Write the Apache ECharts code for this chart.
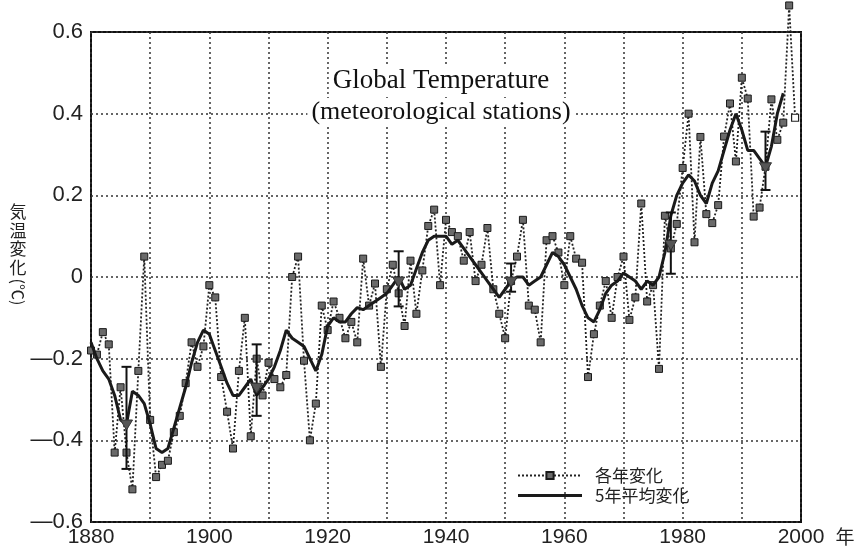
<!DOCTYPE html>
<html><head><meta charset="utf-8">
<script src="https://cdn.jsdelivr.net/npm/echarts@6/dist/echarts.min.js"></script>
<style>html,body{margin:0;padding:0;background:#fff}#c{width:856px;height:551px}</style>
</head><body><div id="c"></div>
<script>
// ---- data ----
const startYear = 1880;
// annual anomaly (°C), 1880..1999
const annualValues = [
  -0.18, -0.19, -0.135, -0.165, -0.43, -0.27, -0.43, -0.52, -0.23, 0.05,   // 1880s
  -0.35, -0.49, -0.46, -0.45, -0.38, -0.34, -0.26, -0.16, -0.22, -0.17,    // 1890s
  -0.02, -0.05, -0.245, -0.33, -0.42, -0.23, -0.10, -0.39, -0.20, -0.29,   // 1900s
  -0.21, -0.25, -0.27, -0.24, 0.00, 0.05, -0.205, -0.40, -0.31, -0.07,     // 1910s
  -0.13, -0.06, -0.10, -0.15, -0.11, -0.16, 0.045, -0.07, -0.016, -0.22,   // 1920s
  -0.03, 0.03, -0.04, -0.12, 0.04, -0.09, 0.016, 0.125, 0.165, -0.02,      // 1930s
  0.14, 0.11, 0.10, 0.04, 0.11, -0.01, 0.03, 0.12, -0.03, -0.09,           // 1940s
  -0.15, -0.01, 0.05, 0.14, -0.07, -0.08, -0.16, 0.09, 0.10, 0.06,         // 1950s
  -0.02, 0.10, 0.045, 0.035, -0.245, -0.14, -0.07, -0.01, -0.10, 0.00,     // 1960s
  0.05, -0.105, -0.05, 0.18, -0.06, -0.02, -0.225, 0.15, 0.07, 0.13,       // 1970s
  0.267, 0.40, 0.085, 0.343, 0.154, 0.132, 0.176, 0.344, 0.425, 0.283,     // 1980s
  0.488, 0.437, 0.148, 0.17, 0.27, 0.435, 0.336, 0.378, 0.665, 0.39        // 1990s
];
// 5-year mean curve (°C), 1880..1997
const meanValues = [
  -0.16, -0.20, -0.23, -0.25, -0.29, -0.35, -0.36, -0.28, -0.29, -0.31,
  -0.36, -0.42, -0.43, -0.42, -0.37, -0.32, -0.27, -0.21, -0.16, -0.13,
  -0.14, -0.18, -0.22, -0.26, -0.29, -0.29, -0.27, -0.25, -0.29, -0.27,
  -0.25, -0.22, -0.18, -0.13, -0.15, -0.16, -0.17, -0.20, -0.23, -0.19,
  -0.12, -0.10, -0.11, -0.11, -0.09, -0.075, -0.08, -0.07, -0.06, -0.05,
  -0.04, -0.02, 0.00, -0.03, -0.02, 0.02, 0.06, 0.09, 0.10, 0.10,
  0.10, 0.08, 0.09, 0.07, 0.05, 0.03, 0.01, -0.01, -0.03, -0.05,
  -0.03, -0.01, 0.00, 0.00, -0.02, -0.01, 0.00, 0.03, 0.06, 0.05,
  0.03, 0.00, -0.03, -0.07, -0.10, -0.11, -0.08, -0.04, -0.02, -0.01,
  0.01, 0.00, -0.01, -0.03, -0.01, -0.02, 0.00, 0.06, 0.15, 0.20,
  0.23, 0.25, 0.235, 0.20, 0.18, 0.23, 0.26, 0.31, 0.36, 0.40,
  0.36, 0.31, 0.31, 0.29, 0.27, 0.32, 0.40, 0.45
];
// error bars (low, high) and the 5-year mean marker shown on each bar
const errorYears = [1886, 1908, 1932, 1951, 1978, 1994];
const errorLow  = [-0.47, -0.34, -0.072, -0.036, 0.008, 0.213];
const errorHigh = [-0.22, -0.165, 0.063, 0.033, 0.158, 0.356];
const errorMid  = [-0.36, -0.27, -0.01, -0.01, 0.08, 0.27];
const seriesNames = ['各年変化', '5年平均変化'];
const titleLines = ['Global Temperature', '(meteorological stations)'];
const yAxisName = ['気', '温', '変', '化'];
const yAxisUnit = '(℃)';
const xUnit = '年';

// ---- chart ----
const chart = echarts.init(document.getElementById('c'), null, {renderer: 'canvas'});
const annualData = annualValues.map((v, i) => {
  const year = startYear + i;
  if (year === 1999) return {value: [year, v], itemStyle: {color: '#fff', borderColor: '#222', borderWidth: 1.2}};
  return [year, v];
});
const meanData = meanValues.map((v, i) => [startYear + i, v]);
const errData = errorYears.map((y, i) => [y, errorLow[i], errorHigh[i], errorMid[i]]);

const sans = '"Liberation Sans", Arial, sans-serif';
const cjk = '"Noto Sans CJK JP", "Noto Sans CJK SC", sans-serif';
const serif = '"Liberation Serif", "Times New Roman", serif';

const gridDot = {type: [2, 3], color: '#333', width: 1.5};

const yGraphics = yAxisName.map((ch, i) => ({
  type: 'text', x: 18, y: 212 + i * 18.5,
  style: {text: ch, font: '17px ' + cjk, fill: '#222', align: 'center', verticalAlign: 'middle'}
}));

chart.setOption({
  animation: false,
  backgroundColor: '#fff',
  grid: {left: 91, right: 55, top: 32, bottom: 29, show: true, borderColor: '#111', borderWidth: 2, backgroundColor: '#fff'},
  xAxis: {
    type: 'value', min: 1880, max: 2000, interval: 10,
    axisLine: {show: false}, axisTick: {show: false},
    splitLine: {show: true, lineStyle: gridDot},
    axisLabel: {
      formatter: v => (v % 20 === 0 ? String(v) : ''),
      fontSize: 21, color: '#222', fontFamily: sans, margin: 5,
      showMinLabel: true, showMaxLabel: true
    }
  },
  yAxis: {
    type: 'value', min: -0.6, max: 0.6, interval: 0.2,
    axisLine: {show: false}, axisTick: {show: false},
    splitLine: {show: true, lineStyle: gridDot},
    axisLabel: {
      formatter: v => (Math.abs(v) < 1e-9 ? '0' : (v < 0 ? '—' : '') + Math.abs(v).toFixed(1)),
      fontSize: 22, color: '#222', fontFamily: sans, margin: 8
    }
  },
  legend: {
    data: [
      {name: seriesNames[0]},
      {name: seriesNames[1], icon: 'path://M0,0H64V3.2H0Z'}
    ],
    orient: 'vertical', left: 512, top: 462,
    itemWidth: 64, itemHeight: 9, itemGap: 3,
    textStyle: {fontSize: 17, fontFamily: cjk, color: '#222', padding: [0, 0, 0, 8]}
  },
  graphic: [
    {type: 'text', x: 441, y: 81, z: 10,
     style: {text: titleLines[0], font: '27px ' + serif, fill: '#111', align: 'center', verticalAlign: 'middle', backgroundColor: '#fff', padding: [1, 4]}},
    {type: 'text', x: 441, y: 112, z: 10,
     style: {text: titleLines[1], font: '26px ' + serif, fill: '#111', align: 'center', verticalAlign: 'middle', backgroundColor: '#fff', padding: [1, 4]}},
    ...yGraphics,
    {type: 'text', x: 18, y: 292, rotation: -Math.PI / 2,
     style: {text: yAxisUnit, font: '16px ' + cjk, fill: '#222', align: 'center', verticalAlign: 'middle'}},
    {type: 'text', x: 845, y: 537,
     style: {text: xUnit, font: '19px ' + cjk, fill: '#222', align: 'center', verticalAlign: 'middle'}}
  ],
  series: [
    {
      name: seriesNames[0], type: 'line', data: annualData, clip: false, z: 3,
      symbol: 'rect', symbolSize: 7, showAllSymbol: true,
      lineStyle: {type: [2, 2], width: 1.8, color: '#222'},
      itemStyle: {color: '#6a6a6a', borderColor: '#1a1a1a', borderWidth: 1}
    },
    {
      name: seriesNames[1], type: 'line', data: meanData, z: 4,
      symbol: 'none', showSymbol: false,
      lineStyle: {width: 3, color: '#1a1a1a'},
      itemStyle: {color: '#1a1a1a'}
    },
    {
      name: 'err', type: 'custom', data: errData, z: 5,
      encode: {x: 0, y: [1, 2]},
      renderItem: (params, api) => {
        const x = api.value(0);
        const p1 = api.coord([x, api.value(1)]);
        const p2 = api.coord([x, api.value(2)]);
        const pm = api.coord([x, api.value(3)]);
        const w = 5;
        const st = {stroke: '#111', lineWidth: 2};
        return {type: 'group', children: [
          {type: 'line', shape: {x1: p1[0], y1: p1[1], x2: p2[0], y2: p2[1]}, style: st},
          {type: 'line', shape: {x1: p1[0] - w, y1: p1[1], x2: p1[0] + w, y2: p1[1]}, style: st},
          {type: 'line', shape: {x1: p2[0] - w, y1: p2[1], x2: p2[0] + w, y2: p2[1]}, style: st},
          {type: 'polygon', shape: {points: [[pm[0] - 6, pm[1] - 4], [pm[0] + 6, pm[1] - 4], [pm[0], pm[1] + 6]]},
           style: {fill: '#555', stroke: '#333', lineWidth: 1}}
        ]};
      }
    }
  ]
});
</script></body></html>
